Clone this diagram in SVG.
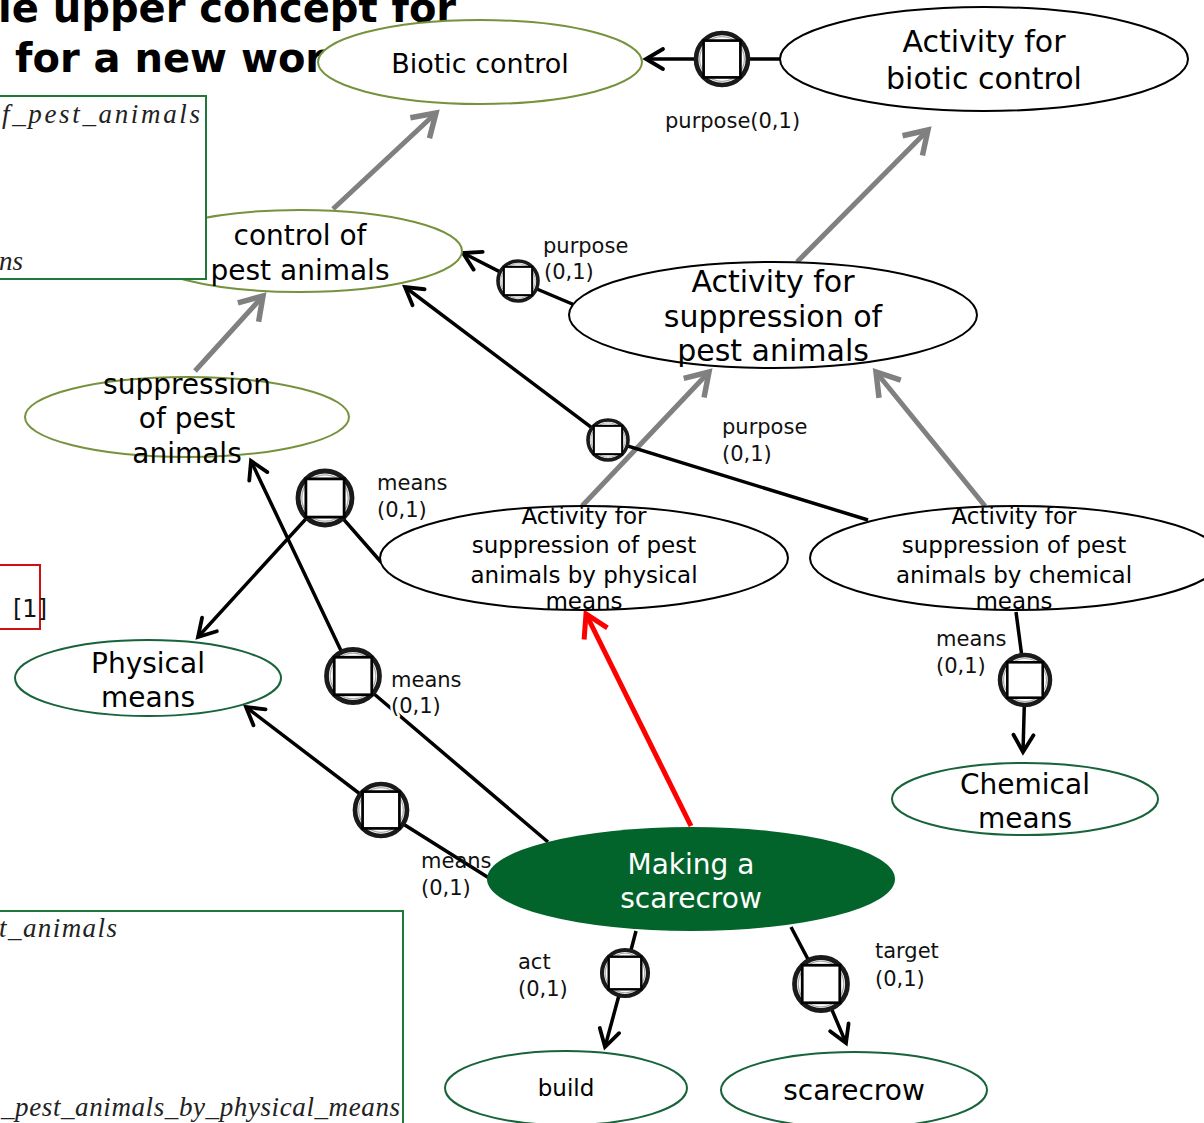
<svg xmlns="http://www.w3.org/2000/svg" width="1204" height="1123" viewBox="0 0 1204 1123">
  <style>
    .title { font-family: "DejaVu Sans", Verdana, sans-serif; font-weight: bold; font-size: 40px; fill: #000; }
    .tex { font-family: "Liberation Serif", "DejaVu Serif", serif; font-style: italic; font-size: 27px; fill: #222; }
    .box { fill: #fff; stroke: #1f7a3a; stroke-width: 2; }
    .ref { fill: none; stroke: #d01010; stroke-width: 2; }
    .lbl { font-family: "DejaVu Sans", Verdana, sans-serif; font-size: 21px; fill: #111; }
    .halo { paint-order: stroke; stroke: #fff; stroke-width: 5px; stroke-linejoin: round; }
    .nt { font-family: "DejaVu Sans", Verdana, sans-serif; fill: #000; text-anchor: middle; }
    .olive { fill: #fff; stroke: #76923c; stroke-width: 2; }
    .dark { fill: #fff; stroke: #17633a; stroke-width: 2; }
    .plain { fill: #fff; stroke: #000; stroke-width: 2; }
    .isa { fill: none; stroke: #808080; stroke-width: 5; marker-end: url(#grayHead); }
    .relA { fill: none; stroke: #000; stroke-width: 3.5; marker-end: url(#blackHead); }
    .red { fill: none; stroke: #ff0000; stroke-width: 5; marker-end: url(#redHead); }
  </style>
  <defs>
    <marker id="blackHead" markerUnits="userSpaceOnUse" viewBox="0 0 26 26" refX="22" refY="13" markerWidth="26" markerHeight="26" orient="auto">
      <path d="M5,3 L22,13 L5,23" fill="none" stroke="#000" stroke-width="3.8" stroke-linecap="round" stroke-linejoin="miter"/>
    </marker>
    <marker id="grayHead" markerUnits="userSpaceOnUse" viewBox="0 0 34 34" refX="29" refY="17" markerWidth="34" markerHeight="34" orient="auto">
      <path d="M7,3 L29,17 L7,31" fill="none" stroke="#808080" stroke-width="5.5" stroke-linecap="butt"/>
    </marker>
    <marker id="redHead" markerUnits="userSpaceOnUse" viewBox="0 0 34 34" refX="29" refY="17" markerWidth="34" markerHeight="34" orient="auto">
      <path d="M7,4 L29,17 L7,30" fill="none" stroke="#ff0000" stroke-width="5" stroke-linecap="butt"/>
    </marker>
    <!-- relation node: ringed circle holding a square -->
    <g id="relNode">
      <circle r="25" fill="#fff" stroke="#1a1a1a" stroke-width="4.5"/>
      <circle r="21.5" fill="none" stroke="#aaa" stroke-width="1.2"/>
      <rect x="-17.7" y="-17.7" width="35.4" height="35.4" fill="#fff" stroke="#000" stroke-width="2.6"/>
    </g>
  </defs>

  <!-- heading (cropped) -->
  <text class="title" x="-2" y="22">le upper concept for</text>
  <text class="title" x="15" y="72">for a new wor</text>

  <!-- connectors -->
  <g id="connectors">
    <!-- is-a links -->
    <line class="isa" x1="333" y1="209" x2="436" y2="113"/>
    <line class="isa" x1="195" y1="371" x2="263" y2="296"/>
    <line class="isa" x1="797" y1="262" x2="928" y2="130"/>
    <line class="isa" x1="582" y1="506" x2="709" y2="372"/>
    <line class="isa" x1="985" y1="506" x2="876" y2="372"/>
    <!-- relations -->
    <line class="relA" x1="782" y1="59" x2="646" y2="59"/>
    <polyline class="relA" points="577,306 518,281 463,253"/>
    <polyline class="relA" points="868,520 608,440 405,287"/>
    <polyline class="relA" points="381,562 325,498 198,637"/>
    <polyline class="relA" points="548,842 353,676 251,461"/>
    <polyline class="relA" points="489,878 381,810 246,707"/>
    <polyline class="relA" points="1016,612 1025,680 1023,752"/>
    <polyline class="relA" points="636,931 625,973 605,1047"/>
    <polyline class="relA" points="791,927 821,984 846,1043"/>
    <line class="red" x1="691" y1="826" x2="586" y2="614"/>
    <!-- relation markers -->
    <use href="#relNode" transform="translate(722,59) scale(1.04)"/>
    <use href="#relNode" transform="translate(518,281) scale(0.8)"/>
    <use href="#relNode" transform="translate(608,440) scale(0.8)"/>
    <use href="#relNode" transform="translate(325,498) scale(1.08)"/>
    <use href="#relNode" transform="translate(353,676) scale(1.06)"/>
    <use href="#relNode" transform="translate(381,810) scale(1.04)"/>
    <use href="#relNode" transform="translate(1025,680) scale(1.0)"/>
    <use href="#relNode" transform="translate(625,973) scale(0.92)"/>
    <use href="#relNode" transform="translate(821,984) scale(1.06)"/>
    <!-- relation labels -->
    <text class="lbl" x="665" y="128">purpose(0,1)</text>
    <text class="lbl" x="543" y="253">purpose</text>
    <text class="lbl" x="544" y="279">(0,1)</text>
    <text class="lbl" x="722" y="434">purpose</text>
    <text class="lbl" x="722" y="461">(0,1)</text>
    <text class="lbl" x="377" y="490">means</text>
    <text class="lbl" x="377" y="517">(0,1)</text>
    <text class="lbl halo" x="391" y="687">means</text>
    <text class="lbl halo" x="391" y="713">(0,1)</text>
    <text class="lbl" x="421" y="868">means</text>
    <text class="lbl" x="421" y="895">(0,1)</text>
    <text class="lbl" x="936" y="646">means</text>
    <text class="lbl" x="936" y="673">(0,1)</text>
    <text class="lbl" x="518" y="969">act</text>
    <text class="lbl" x="518" y="996">(0,1)</text>
    <text class="lbl" x="875" y="958">target</text>
    <text class="lbl" x="875" y="986">(0,1)</text>
  </g>

  <!-- nodes -->
  <g id="biotic-control">
    <ellipse class="olive" cx="480" cy="62" rx="162" ry="42"/>
    <text class="nt" x="480" y="73" font-size="27">Biotic control</text>
  </g>
  <g id="activity-biotic-control">
    <ellipse class="plain" cx="984" cy="59" rx="204" ry="52"/>
    <text class="nt" x="984" y="52" font-size="30">Activity for</text>
    <text class="nt" x="984" y="89" font-size="30">biotic control</text>
  </g>
  <g id="control-pest-animals">
    <ellipse class="olive" cx="300" cy="251" rx="162" ry="41"/>
    <text class="nt" x="300" y="245" font-size="28">control of</text>
    <text class="nt" x="300" y="280" font-size="28">pest animals</text>
  </g>
  <g id="suppression-pest-animals">
    <ellipse class="olive" cx="187" cy="417" rx="162" ry="40"/>
    <text class="nt" x="187" y="394" font-size="28">suppression</text>
    <text class="nt" x="187" y="428" font-size="28">of pest</text>
    <text class="nt" x="187" y="463" font-size="28">animals</text>
  </g>
  <g id="activity-suppression">
    <ellipse class="plain" cx="773" cy="315" rx="204" ry="53"/>
    <text class="nt" x="773" y="292" font-size="30">Activity for</text>
    <text class="nt" x="773" y="327" font-size="30">suppression of</text>
    <text class="nt" x="773" y="361" font-size="30">pest animals</text>
  </g>
  <g id="activity-physical">
    <ellipse class="plain" cx="584" cy="558" rx="204" ry="52"/>
    <text class="nt" x="584" y="524" font-size="23">Activity for</text>
    <text class="nt" x="584" y="553" font-size="23">suppression of pest</text>
    <text class="nt" x="584" y="583" font-size="23">animals by physical</text>
    <text class="nt" x="584" y="609" font-size="23">means</text>
  </g>
  <g id="activity-chemical">
    <ellipse class="plain" cx="1016" cy="558" rx="206" ry="52"/>
    <text class="nt" x="1014" y="524" font-size="23">Activity for</text>
    <text class="nt" x="1014" y="553" font-size="23">suppression of pest</text>
    <text class="nt" x="1014" y="583" font-size="23">animals by chemical</text>
    <text class="nt" x="1014" y="609" font-size="23">means</text>
  </g>
  <g id="physical-means">
    <ellipse class="dark" cx="148" cy="678" rx="133" ry="38"/>
    <text class="nt" x="148" y="673" font-size="28">Physical</text>
    <text class="nt" x="148" y="707" font-size="28">means</text>
  </g>
  <g id="chemical-means">
    <ellipse class="dark" cx="1025" cy="799" rx="133" ry="36"/>
    <text class="nt" x="1025" y="794" font-size="28">Chemical</text>
    <text class="nt" x="1025" y="828" font-size="28">means</text>
  </g>
  <g id="making-scarecrow">
    <ellipse cx="691" cy="879" rx="204" ry="52" fill="#03642b"/>
    <text class="nt" x="691" y="874" font-size="28" style="fill:#fff">Making a</text>
    <text class="nt" x="691" y="908" font-size="28" style="fill:#fff">scarecrow</text>
  </g>
  <g id="build">
    <ellipse class="dark" cx="566" cy="1088" rx="121" ry="37"/>
    <text class="nt" x="566" y="1096" font-size="23">build</text>
  </g>
  <g id="scarecrow">
    <ellipse class="dark" cx="854" cy="1090" rx="133" ry="38"/>
    <text class="nt" x="854" y="1100" font-size="28">scarecrow</text>
  </g>

  <!-- annotation boxes laid over the graph -->
  <g id="texBoxTop">
    <rect class="box" x="-3" y="96" width="209" height="183"/>
    <text class="tex" x="200" y="123" text-anchor="end" textLength="198" lengthAdjust="spacing">f_pest_animals</text>
    <text class="tex" x="-1" y="270">ns</text>
  </g>
  <g id="refBox">
    <rect class="ref" x="-3" y="565" width="43" height="64"/>
    <text class="lbl" x="13" y="617" style="font-size:24px">[1]</text>
  </g>
  <g id="texBoxBottom">
    <rect class="box" x="-3" y="911" width="406" height="216"/>
    <text class="tex" x="-1" y="937" textLength="118" lengthAdjust="spacing">t_animals</text>
    <text class="tex" x="1" y="1116" textLength="399" lengthAdjust="spacing">_pest_animals_by_physical_means</text>
  </g>
</svg>
